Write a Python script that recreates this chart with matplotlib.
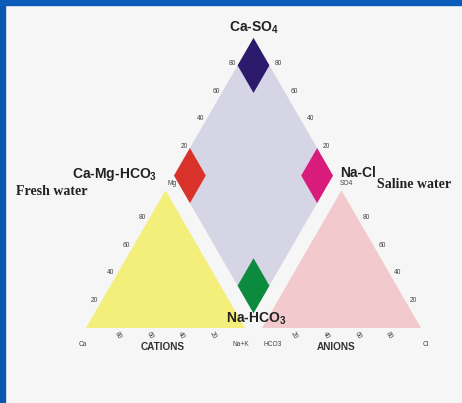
import numpy as np
import matplotlib
matplotlib.use("Agg")
import matplotlib.pyplot as plt
from matplotlib.patches import Polygon, Rectangle

plt.rcParams['font.family'] = ['Liberation Sans', 'DejaVu Sans']
plt.rcParams['mathtext.fontset'] = 'custom'
plt.rcParams['mathtext.rm'] = 'Liberation Sans:bold'
plt.rcParams['mathtext.bf'] = 'Liberation Sans:bold'
plt.rcParams['mathtext.it'] = 'Liberation Sans:bold:italic'

# piper layout (percent units)
gap = 10.7
corner = 20          # size of the highlighted water-type corners
ticks = [20, 40, 60, 80]
cation_side = ['20', '40', '60', '80']
cation_base = ['80', '60', '40', '20']
anion_side = ['20', '40', '60', '80']
anion_base = ['20', '40', '60', '80']
diamond_ticks = ['20', '40', '60', '80']

water_types = ['Ca-SO$_4$', 'Ca-Mg-HCO$_3$', 'Na-Cl', 'Na-HCO$_3$']
type_colors = ['#2c1a6c', '#d8322a', '#d91b7c', '#0c8a3e']

h = np.sqrt(3) / 2
ca = np.array([0.0, 0.0]); nak = np.array([100.0, 0.0]); mg = np.array([50.0, 100 * h])
hco3 = np.array([100 + gap, 0.0]); cl = np.array([200 + gap, 0.0]); so4 = np.array([150 + gap, 100 * h])
B = np.array([100 + gap / 2, gap / 2 * np.sqrt(3)])
L = B + 100 * np.array([-0.5, h])
R = B + 100 * np.array([0.5, h])
T = B + 100 * np.array([0.0, 2 * h])

fig = plt.figure(figsize=(4.62, 4.03), dpi=100, facecolor='#f6f6f6')
ax = fig.add_axes([0, 0, 1, 1])
ax.set_facecolor('#f6f6f6')
ax.set_xlim(-54.09, 236.48)
ax.set_ylim(-47.17, 206.29)
ax.axis('off')

# frame strips
fig.patches.append(Rectangle((0, 0), 5 / 462, 1, transform=fig.transFigure, color='#0a57b0', zorder=0))
fig.patches.append(Rectangle((0, 1 - 5 / 403), 1, 5 / 403, transform=fig.transFigure, color='#0a5cb8', zorder=0))

ax.add_patch(Polygon([ca, nak, mg], closed=True, fc='#f4ef7b', ec='none'))
ax.add_patch(Polygon([hco3, cl, so4], closed=True, fc='#f2c9cc', ec='none'))
ax.add_patch(Polygon([B, R, T, L], closed=True, fc='#d6d5e5', ec='none'))


def small_diamond(p, d1, d2):
    d1 = np.asarray(d1); d2 = np.asarray(d2)
    return [p, p + corner * d1, p + corner * (d1 + d2), p + corner * d2]


up_r = np.array([0.5, h]); up_l = np.array([-0.5, h])
corners = [small_diamond(T, -up_r, -up_l), small_diamond(L, up_r, -up_l),
           small_diamond(R, up_l, -up_r), small_diamond(B, up_r, up_l)]
for pts, c in zip(corners, type_colors):
    ax.add_patch(Polygon(pts, closed=True, fc=c, ec='none', zorder=3))

tick_kw = dict(fontsize=4.8, color='#444444', textcoords='offset points', ha='center', va='center')
for t, lab_s, lab_b in zip(ticks, cation_side, cation_base):
    f = t / 100
    ax.annotate(lab_s, ca + f * (mg - ca), xytext=(-5.4, 0), **tick_kw)
    ax.annotate(lab_b, ca + f * (nak - ca), xytext=(0, -5.2), rotation=-60, **tick_kw)
for t, lab_s, lab_b in zip(ticks, anion_side, anion_base):
    f = t / 100
    ax.annotate(lab_s, cl + f * (so4 - cl), xytext=(6.2, 0), **tick_kw)
    ax.annotate(lab_b, hco3 + f * (cl - hco3), xytext=(0, -5.2), rotation=-60, **tick_kw)
for t, lab in zip(ticks, diamond_ticks):
    f = t / 100
    ax.annotate(lab, L + f * (T - L), xytext=(-4, 1.2), **tick_kw)
    ax.annotate(lab, R + f * (T - R), xytext=(6.5, 1.2), **tick_kw)

ax.annotate('Mg', mg, xytext=(4.5, 5), **tick_kw)
ax.annotate('SO4', so4, xytext=(3.5, 5), **tick_kw)
ax.annotate('Ca', ca, xytext=(-2.5, -12), **tick_kw)
ax.annotate('Na+K', nak, xytext=(-3, -12), **tick_kw)
ax.annotate('HCO3', hco3, xytext=(8, -12), **tick_kw)
ax.annotate('Cl', cl, xytext=(3.5, -12), **tick_kw)

ax.annotate('CATIONS', (ca + nak) / 2, xytext=(-2, -14), textcoords='offset points',
            ha='center', va='center', fontsize=7.2, fontweight='bold', color='#333333')
ax.annotate('ANIONS', (hco3 + cl) / 2, xytext=(-4, -14), textcoords='offset points',
            ha='center', va='center', fontsize=7.2, fontweight='bold', color='#333333')

name_kw = dict(textcoords='offset points', fontsize=10, fontweight='bold', color='#222222', va='center')
ax.annotate(water_types[0], T, xytext=(0, 7.5), ha='center', **name_kw)
ax.annotate(water_types[1], L, xytext=(-12, 0.5), ha='right', **name_kw)
ax.annotate(water_types[2], R, xytext=(5, 2.2), ha='left', **name_kw)
ax.annotate(water_types[3], B, xytext=(2, -3.8), ha='center', zorder=5, **name_kw)

serif_kw = dict(textcoords='offset points', fontsize=10, fontweight='bold', color='#222222',
                va='center', family=['Liberation Serif', 'DejaVu Serif'])
ax.annotate('Fresh water', L, xytext=(-114, -11.5), ha='left', **serif_kw)
ax.annotate('Saline water', R, xytext=(31.5, -6.5), ha='left', **serif_kw)

fig.savefig('out.png', dpi=100, facecolor=fig.get_facecolor())
